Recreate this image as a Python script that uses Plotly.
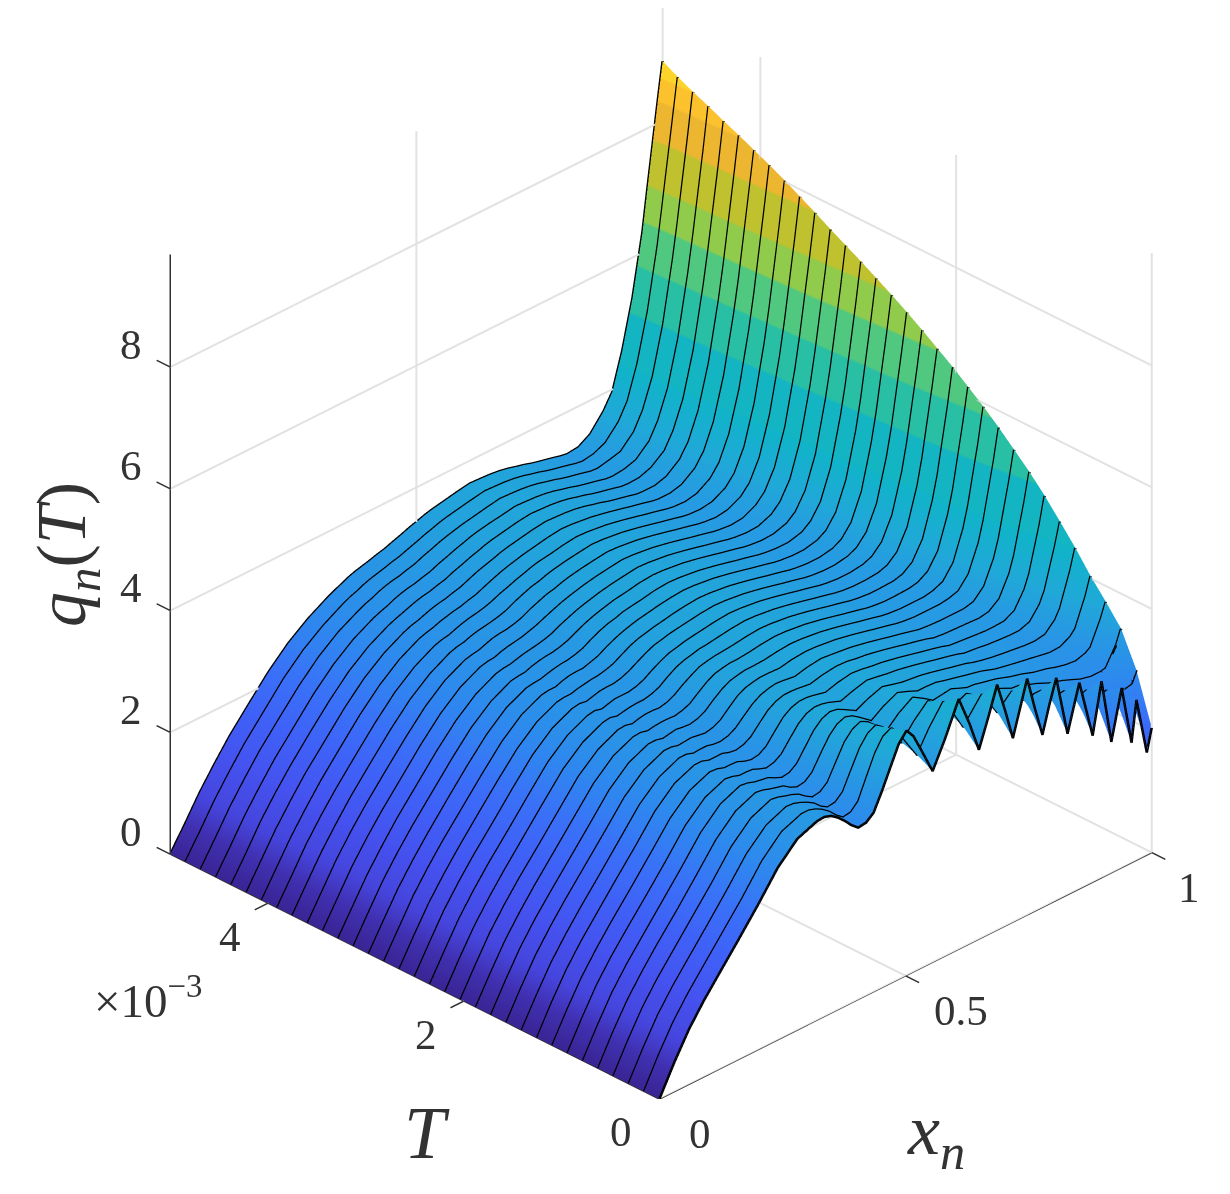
import plotly.graph_objects as go

x_n = [0, .03, .06, .09, .12, .16, .20, .24, .28, .32,
       .349, .376, .404, .435, .47, .502, .53, .555, .58, .608, .63, .649, .668, .686, .703, .718, .733, .747, .763, .778, .792, .806,
       .829, .853, .88, .898, .918, .939, .959, .969, .99, 1]
x_ripple = [.335, .362, .39, .42, .452, .486, .516]
T_ms = [0, .156, .313, .469, .625, .781, .938, 1.094, 1.25, 1.406, 1.563, 1.719, 1.875, 2.031, 2.188, 2.344, 2.5,
        2.656, 2.813, 2.969, 3.125, 3.281, 3.438, 3.594, 3.75, 3.906, 4.063, 4.219, 4.375, 4.531, 4.688, 4.844, 5.0]

q_left = [
 [0,.48,.91,1.26,1.57,1.98,2.40,2.85,3.17,3.30],
 [0,.48,.91,1.26,1.57,1.98,2.39,2.84,3.16,3.29],
 [0,.47,.90,1.25,1.56,1.97,2.39,2.83,3.14,3.28],
 [0,.47,.90,1.25,1.56,1.97,2.38,2.82,3.13,3.27],
 [0,.47,.89,1.24,1.56,1.96,2.38,2.81,3.12,3.26],
 [0,.46,.89,1.24,1.55,1.96,2.37,2.80,3.11,3.25],
 [0,.46,.89,1.24,1.55,1.95,2.36,2.79,3.09,3.23],
 [0,.46,.88,1.23,1.55,1.95,2.36,2.78,3.08,3.22],
 [0,.46,.88,1.23,1.54,1.95,2.35,2.77,3.07,3.21],
 [0,.45,.87,1.22,1.54,1.94,2.35,2.76,3.05,3.20],
 [0,.45,.87,1.22,1.54,1.94,2.34,2.75,3.04,3.19],
 [0,.45,.87,1.22,1.53,1.93,2.33,2.74,3.03,3.18],
 [0,.44,.86,1.21,1.53,1.93,2.33,2.73,3.02,3.17],
 [0,.44,.86,1.21,1.53,1.92,2.32,2.72,3.00,3.16],
 [0,.44,.85,1.20,1.52,1.92,2.32,2.71,2.99,3.15],
 [0,.43,.85,1.20,1.52,1.91,2.31,2.70,2.98,3.14],
 [0,.43,.85,1.20,1.52,1.91,2.31,2.69,2.97,3.13],
 [0,.43,.84,1.19,1.51,1.91,2.30,2.67,2.95,3.11],
 [0,.42,.84,1.19,1.51,1.90,2.29,2.66,2.94,3.10],
 [0,.42,.83,1.18,1.50,1.90,2.29,2.65,2.93,3.09],
 [0,.42,.83,1.18,1.50,1.89,2.28,2.64,2.91,3.08],
 [0,.41,.82,1.17,1.50,1.89,2.28,2.63,2.90,3.07],
 [0,.41,.82,1.17,1.49,1.88,2.27,2.62,2.89,3.06],
 [0,.41,.82,1.17,1.49,1.88,2.26,2.61,2.88,3.05],
 [0,.41,.81,1.16,1.49,1.88,2.26,2.60,2.86,3.04],
 [0,.40,.81,1.16,1.48,1.87,2.25,2.59,2.85,3.03],
 [0,.40,.80,1.15,1.48,1.87,2.25,2.58,2.84,3.02],
 [0,.40,.80,1.15,1.48,1.86,2.24,2.57,2.82,3.00],
 [0,.39,.80,1.15,1.47,1.86,2.23,2.56,2.81,2.99],
 [0,.39,.79,1.14,1.47,1.85,2.23,2.55,2.80,2.98],
 [0,.39,.79,1.14,1.47,1.85,2.22,2.54,2.79,2.97],
 [0,.38,.78,1.13,1.46,1.84,2.22,2.53,2.77,2.96],
 [0,.38,.78,1.13,1.46,1.84,2.21,2.52,2.76,2.95],
]
q_mid_a = [
 [3.27,3.08,2.85,2.97,3.60,4.06,3.65,3.17,3.60],
 [3.25,3.10,2.89,3.03,3.70,3.97,3.66,3.31,3.66],
 [3.23,3.11,2.93,3.06,3.65,3.89,3.65,3.39,3.64],
 [3.21,3.13,2.97,3.09,3.62,3.82,3.65,3.45,3.64],
 [3.20,3.14,3.01,3.13,3.59,3.77,3.65,3.49,3.63],
 [3.19,3.15,3.04,3.15,3.56,3.73,3.65,3.53,3.63],
 [3.17,3.16,3.07,3.18,3.54,3.68,3.64,3.56,3.63],
 [3.17,3.16,3.08,3.18,3.52,3.65,3.63,3.58,3.64],
 [3.17,3.17,3.11,3.21,3.51,3.63,3.62,3.59,3.64],
 [3.16,3.17,3.13,3.23,3.49,3.61,3.62,3.59,3.64],
 [3.16,3.18,3.14,3.23,3.49,3.59,3.61,3.60,3.64],
 [3.15,3.19,3.16,3.25,3.48,3.58,3.60,3.61,3.64],
 [3.15,3.18,3.17,3.25,3.47,3.57,3.59,3.61,3.64],
 [3.14,3.19,3.18,3.27,3.46,3.56,3.59,3.61,3.64],
 [3.14,3.18,3.19,3.27,3.46,3.54,3.58,3.61,3.64],
 [3.13,3.19,3.19,3.27,3.44,3.53,3.58,3.61,3.64],
 [3.13,3.19,3.20,3.28,3.44,3.53,3.58,3.61,3.64],
 [3.13,3.18,3.21,3.28,3.44,3.52,3.57,3.61,3.64],
 [3.12,3.19,3.20,3.28,3.43,3.52,3.57,3.61,3.64],
 [3.12,3.18,3.21,3.28,3.43,3.51,3.57,3.60,3.64],
 [3.11,3.18,3.21,3.28,3.42,3.51,3.57,3.60,3.64],
 [3.11,3.17,3.21,3.28,3.41,3.50,3.56,3.60,3.63],
 [3.10,3.17,3.21,3.29,3.41,3.50,3.56,3.60,3.63],
 [3.10,3.18,3.21,3.28,3.41,3.49,3.56,3.60,3.63],
 [3.10,3.17,3.21,3.28,3.41,3.49,3.56,3.60,3.63],
 [3.09,3.17,3.22,3.29,3.40,3.49,3.56,3.59,3.63],
 [3.09,3.16,3.21,3.28,3.40,3.49,3.55,3.59,3.63],
 [3.08,3.16,3.21,3.28,3.40,3.48,3.55,3.59,3.63],
 [3.08,3.16,3.21,3.28,3.39,3.48,3.55,3.59,3.63],
 [3.07,3.16,3.21,3.28,3.39,3.48,3.55,3.59,3.62],
 [3.07,3.16,3.21,3.28,3.39,3.48,3.54,3.58,3.62],
 [3.06,3.15,3.21,3.28,3.38,3.47,3.54,3.58,3.62],
 [3.06,3.15,3.21,3.28,3.38,3.47,3.54,3.58,3.62],
]
q_ripple = [
 [3.31,3.19,2.95,2.87,3.26,3.90,3.91],
 [3.29,3.19,2.98,2.91,3.36,3.90,3.85],
 [3.27,3.18,3.00,2.95,3.35,3.82,3.80],
 [3.25,3.18,3.04,2.99,3.35,3.76,3.76],
 [3.24,3.17,3.06,3.03,3.36,3.72,3.73],
 [3.23,3.17,3.09,3.06,3.35,3.68,3.71],
 [3.21,3.17,3.11,3.10,3.36,3.64,3.67],
 [3.21,3.17,3.11,3.10,3.35,3.61,3.65],
 [3.21,3.17,3.13,3.14,3.36,3.59,3.63],
 [3.20,3.17,3.14,3.16,3.36,3.57,3.63],
 [3.19,3.17,3.16,3.17,3.36,3.56,3.61],
 [3.18,3.17,3.17,3.19,3.37,3.55,3.60],
 [3.18,3.17,3.18,3.20,3.36,3.54,3.59],
 [3.17,3.17,3.19,3.21,3.37,3.53,3.58],
 [3.17,3.16,3.19,3.22,3.37,3.51,3.57],
 [3.16,3.16,3.19,3.22,3.36,3.50,3.56],
 [3.15,3.16,3.20,3.23,3.36,3.50,3.56],
 [3.13,3.16,3.20,3.24,3.36,3.49,3.55],
 [3.12,3.16,3.20,3.24,3.36,3.48,3.55],
 [3.11,3.15,3.20,3.24,3.36,3.48,3.55],
 [3.10,3.15,3.20,3.24,3.35,3.47,3.54],
 [3.10,3.14,3.19,3.24,3.35,3.46,3.53],
 [3.09,3.14,3.19,3.25,3.35,3.46,3.53],
 [3.08,3.14,3.20,3.24,3.35,3.46,3.53],
 [3.08,3.14,3.19,3.24,3.35,3.46,3.53],
 [3.07,3.13,3.20,3.25,3.35,3.45,3.53],
 [3.06,3.13,3.19,3.25,3.34,3.45,3.52],
 [3.05,3.12,3.19,3.25,3.34,3.44,3.52],
 [3.04,3.12,3.19,3.25,3.34,3.44,3.52],
 [3.03,3.12,3.19,3.25,3.34,3.44,3.52],
 [3.03,3.12,3.19,3.25,3.34,3.44,3.51],
 [3.02,3.11,3.18,3.25,3.33,3.43,3.51],
 [3.01,3.11,3.18,3.25,3.33,3.43,3.51],
]
q_mid_b = [
 [4.15,3.65,3.14,3.60,4.07,3.55,3.05,3.50,3.92,3.35,2.86,3.30,3.69],
 [3.98,3.69,3.39,3.59,3.78,3.56,3.35,3.47,3.58,3.43,3.28,3.35,3.35],
 [3.86,3.69,3.51,3.59,3.66,3.56,3.46,3.47,3.49,3.43,3.37,3.36,3.31],
 [3.79,3.68,3.57,3.59,3.61,3.55,3.50,3.49,3.46,3.43,3.40,3.36,3.32],
 [3.74,3.67,3.60,3.60,3.59,3.55,3.52,3.49,3.46,3.43,3.40,3.36,3.32],
 [3.71,3.66,3.62,3.60,3.58,3.55,3.52,3.49,3.46,3.43,3.40,3.36,3.33],
 [3.69,3.66,3.63,3.61,3.58,3.55,3.52,3.49,3.46,3.43,3.40,3.37,3.33],
 [3.68,3.66,3.63,3.61,3.58,3.55,3.52,3.49,3.46,3.43,3.40,3.37,3.33],
 [3.67,3.66,3.63,3.61,3.58,3.55,3.52,3.49,3.46,3.43,3.40,3.37,3.33],
 [3.67,3.65,3.63,3.61,3.58,3.55,3.52,3.49,3.46,3.43,3.40,3.37,3.34],
 [3.66,3.65,3.63,3.61,3.58,3.55,3.52,3.49,3.46,3.43,3.40,3.37,3.35],
 [3.66,3.65,3.63,3.61,3.58,3.55,3.52,3.49,3.46,3.43,3.40,3.37,3.35],
 [3.66,3.65,3.63,3.61,3.58,3.55,3.52,3.49,3.46,3.43,3.40,3.37,3.35],
 [3.66,3.65,3.63,3.61,3.58,3.55,3.52,3.49,3.46,3.43,3.40,3.37,3.35],
 [3.66,3.65,3.63,3.61,3.58,3.55,3.52,3.49,3.46,3.43,3.40,3.37,3.35],
 [3.66,3.65,3.63,3.61,3.58,3.55,3.52,3.49,3.46,3.43,3.40,3.37,3.35],
 [3.66,3.65,3.63,3.61,3.58,3.55,3.52,3.49,3.46,3.43,3.40,3.37,3.35],
 [3.66,3.65,3.63,3.61,3.58,3.55,3.52,3.49,3.46,3.43,3.40,3.37,3.35],
 [3.66,3.65,3.63,3.61,3.58,3.55,3.52,3.49,3.46,3.43,3.40,3.37,3.35],
 [3.66,3.65,3.63,3.61,3.58,3.55,3.52,3.49,3.46,3.43,3.40,3.37,3.35],
 [3.66,3.65,3.63,3.61,3.58,3.55,3.52,3.49,3.46,3.43,3.40,3.37,3.35],
 [3.66,3.65,3.63,3.61,3.58,3.55,3.52,3.49,3.46,3.43,3.40,3.37,3.35],
 [3.66,3.65,3.63,3.61,3.58,3.55,3.52,3.49,3.46,3.43,3.40,3.37,3.35],
 [3.66,3.65,3.63,3.61,3.58,3.55,3.52,3.49,3.46,3.43,3.40,3.37,3.35],
 [3.66,3.65,3.63,3.61,3.58,3.55,3.52,3.49,3.46,3.43,3.40,3.37,3.35],
 [3.66,3.65,3.63,3.61,3.58,3.55,3.52,3.49,3.46,3.43,3.40,3.37,3.35],
 [3.66,3.65,3.63,3.61,3.58,3.55,3.52,3.49,3.46,3.43,3.40,3.37,3.35],
 [3.66,3.65,3.64,3.62,3.59,3.55,3.52,3.48,3.45,3.42,3.39,3.36,3.35],
 [3.66,3.65,3.64,3.62,3.59,3.55,3.52,3.48,3.45,3.42,3.39,3.36,3.35],
 [3.66,3.65,3.64,3.62,3.59,3.55,3.52,3.48,3.45,3.42,3.39,3.36,3.35],
 [3.66,3.65,3.64,3.62,3.59,3.55,3.52,3.48,3.45,3.42,3.39,3.36,3.35],
 [3.66,3.65,3.64,3.62,3.59,3.55,3.52,3.48,3.45,3.42,3.39,3.36,3.34],
 [3.66,3.65,3.64,3.62,3.59,3.55,3.52,3.48,3.45,3.42,3.39,3.36,3.34],
]
q_right = [
 [2.67,3.42,2.43,3.26,2.17,2.98,1.99,2.66,1.70,2.07],
 [3.12,3.15,2.91,2.98,2.73,2.81,2.59,2.68,2.72,2.90],
 [3.24,3.15,3.08,3.02,2.95,2.91,2.91,2.93,3.23,3.46],
 [3.27,3.20,3.15,3.10,3.06,3.04,3.09,3.15,3.54,3.78],
 [3.28,3.24,3.20,3.17,3.14,3.15,3.24,3.33,3.79,4.08],
 [3.29,3.26,3.23,3.21,3.20,3.23,3.39,3.54,4.09,4.42],
 [3.31,3.28,3.26,3.25,3.25,3.31,3.52,3.71,4.36,4.73],
 [3.31,3.29,3.27,3.27,3.28,3.37,3.64,3.87,4.60,5.03],
 [3.31,3.30,3.29,3.28,3.31,3.44,3.77,4.04,4.85,5.30],
 [3.32,3.31,3.31,3.31,3.35,3.52,3.90,4.20,5.06,5.54],
 [3.33,3.33,3.33,3.35,3.40,3.60,4.03,4.36,5.27,5.78],
 [3.33,3.33,3.33,3.36,3.43,3.66,4.14,4.49,5.46,6.00],
 [3.33,3.33,3.34,3.37,3.47,3.73,4.25,4.62,5.65,6.20],
 [3.33,3.33,3.34,3.38,3.50,3.80,4.36,4.75,5.82,6.40],
 [3.33,3.33,3.35,3.40,3.54,3.87,4.47,4.89,6.00,6.58],
 [3.33,3.33,3.36,3.42,3.58,3.94,4.58,5.02,6.16,6.76],
 [3.33,3.33,3.37,3.44,3.62,4.01,4.70,5.15,6.32,6.93],
 [3.33,3.33,3.37,3.45,3.65,4.08,4.80,5.27,6.47,7.09],
 [3.33,3.33,3.38,3.47,3.69,4.15,4.89,5.38,6.61,7.24],
 [3.33,3.33,3.39,3.50,3.74,4.23,5.01,5.50,6.74,7.39],
 [3.33,3.34,3.41,3.53,3.80,4.32,5.14,5.63,6.88,7.53],
 [3.33,3.34,3.43,3.57,3.86,4.42,5.25,5.77,7.02,7.67],
 [3.33,3.35,3.46,3.61,3.93,4.52,5.37,5.90,7.17,7.82],
 [3.33,3.36,3.47,3.63,3.97,4.60,5.47,6.01,7.30,7.96],
 [3.34,3.37,3.49,3.66,4.02,4.67,5.57,6.12,7.43,8.10],
 [3.34,3.38,3.52,3.71,4.10,4.77,5.68,6.23,7.56,8.23],
 [3.35,3.40,3.56,3.77,4.18,4.87,5.80,6.35,7.70,8.35],
 [3.35,3.41,3.58,3.81,4.24,4.95,5.90,6.46,7.80,8.47],
 [3.36,3.43,3.60,3.86,4.30,5.03,6.01,6.58,7.90,8.58],
 [3.37,3.43,3.63,3.90,4.36,5.11,6.10,6.68,8.01,8.70],
 [3.39,3.44,3.66,3.94,4.42,5.19,6.20,6.79,8.13,8.81],
 [3.37,3.46,3.70,3.97,4.51,5.29,6.30,6.93,8.28,8.93],
 [3.36,3.48,3.75,4.00,4.60,5.40,6.40,7.08,8.45,9.07],
]
read_calibration = .99  # the table was read at 60.4 px per unit; the axis ticks are 61 px apart per unit

x_all = x_n + x_ripple
order = sorted(range(len(x_all)), key=lambda i: x_all[i])
x_sorted = [x_all[i] for i in order]
q_rows = []
for a, b, c, d, e in zip(q_left, q_mid_a, q_mid_b, q_right, q_ripple):
    merged = a + b + c + d + e
    q_rows.append([merged[i] * read_calibration for i in order])

x_ticks = [0, .5, 1]
x_labels = ["0", "0.5", "1"]
T_ticks = [0, 2, 4]
q_ticks = [0, 2, 4, 6, 8]
x_max, T_max, q_max = 1, 5, 9.85

cmax = 9.03
color_stops = [
    (0, "#3a2595"), (.35, "#4030b0"), (.7, "#4545dd"), (1.2, "#4552ef"), (1.7, "#3f60f7"), (2.2, "#3a70f8"),
    (2.7, "#2f86f0"), (3.3, "#269ae2"), (3.7, "#20a8d8"), (4.4, "#0fb5c8"),
]
color_bands = [
    (4.4, 5.15, "#14b5c2"), (5.15, 5.85, "#28bfa5"), (5.85, 6.5, "#50c880"), (6.5, 7.1, "#90cb4c"),
    (7.1, 7.8, "#bfc22e"), (7.8, 8.4, "#ecb630"), (8.4, 8.75, "#fcc22e"), (8.75, 9.03, "#fdd52a"),
]
colorscale = [[q / cmax, c] for q, c in color_stops]
for lo, hi, c in color_bands:
    colorscale += [[lo / cmax, c], [hi / cmax, c]]

def polyline_trace(segments, color, width):
    xs, ys, zs = [], [], []
    for seg in segments:
        for p in seg:
            xs.append(p[0]); ys.append(p[1]); zs.append(p[2])
        xs.append(None); ys.append(None); zs.append(None)
    return go.Scatter3d(x=xs, y=ys, z=zs, mode="lines", line=dict(color=color, width=width),
                        hoverinfo="skip", showlegend=False)

grid = []
for z in q_ticks:
    grid.append([(0, T_max, z), (x_max, T_max, z), (x_max, 0, z)])
for x in x_ticks[1:]:
    grid.append([(x, 0, 0), (x, T_max, 0), (x, T_max, q_max)])
for t in T_ticks:
    grid.append([(0, t, 0), (x_max, t, 0), (x_max, t, q_max)])

x_tick_len, T_tick_len = .027, .14
axes = [[(x_max, 0, 0), (0, 0, 0), (0, T_max, 0), (0, T_max, q_max)]]
axes += [[(x, 0, 0), (x, -T_tick_len, 0)] for x in x_ticks]
axes += [[(0, t, 0), (-x_tick_len, t, 0)] for t in T_ticks]
axes += [[(0, T_max, z), (0, T_max + T_tick_len, z)] for z in q_ticks]

rows = [[(x, t, q) for x, q in zip(x_sorted, row)] for t, row in zip(T_ms, q_rows)]

fig = go.Figure()
fig.add_trace(polyline_trace(grid, "#e2e2e2", 4))
fig.add_trace(polyline_trace(axes, "#333333", 3))
fig.add_trace(go.Surface(
    x=x_sorted, y=T_ms, z=q_rows, colorscale=colorscale, cmin=0, cmax=cmax, showscale=False,
    lighting=dict(ambient=1, diffuse=0, specular=0, fresnel=0, roughness=1),
    hoverinfo="skip",
))
fig.add_trace(polyline_trace(rows, "#000000", 5))

FONT = "Liberation Serif"
INK = "#333333"
tick_font = dict(family=FONT, size=43, color=INK)
def label(x, y, z, text, dx, dy):
    return dict(x=x, y=y, z=z, text=text, showarrow=False, xshift=dx, yshift=dy, font=tick_font)

scene_notes = [label(0, T_max, z, str(z), -39, 23) for z in q_ticks]
scene_notes += [label(0, t, 0, str(t), -38, -33) for t in T_ticks]
scene_notes += [label(x, 0, 0, s, dx, -35) for x, s, dx in zip(x_ticks, x_labels, [41, 55, 37])]

def title(text, px, py, size, angle=0):
    return dict(text=text, x=px/1230, y=1-py/1194, xref="paper", yref="paper", showarrow=False,
                xanchor="center", yanchor="middle", textangle=angle,
                font=dict(family=FONT, size=size, color=INK))

hidden = dict(visible=False, showgrid=False, zeroline=False, showbackground=False, showspikes=False)
fig.update_layout(
    width=1230, height=1194, paper_bgcolor="white", margin=dict(l=0, r=0, t=0, b=0),
    showlegend=False,
    scene=dict(
        domain=dict(x=[.0618, 1], y=[.0863, 1]),
        aspectmode="manual", aspectratio=dict(x=1.353, y=1.339, z=1.27),
        camera=dict(projection=dict(type="orthographic"), up=dict(x=0, y=0, z=1),
                    eye=dict(x=-1.867, y=-1.867, z=1.527), center=dict(x=0, y=0, z=0)),
        xaxis=dict(range=[-.03, 1.03], **hidden), yaxis=dict(range=[-.14, 5.14], **hidden),
        zaxis=dict(range=[0, q_max], **hidden),
        annotations=scene_notes,
    ),
    annotations=[
        title("<i>T</i>", 419, 1125, 74),
        title("<i>x<sub>n</sub></i>", 928, 1127, 72),
        title("<i>q<sub>n</sub></i>(<i>T</i>)", 59, 547, 70, -90),
        title("×10<sup>−3</sup>", 140, 989, 47),
    ],
)
fig.write_html("out.html")
